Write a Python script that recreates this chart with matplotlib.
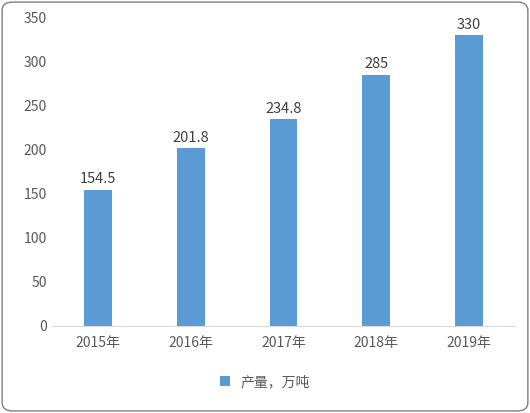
import matplotlib.pyplot as plt
from matplotlib.patches import FancyBboxPatch

plt.rcParams['font.family'] = ['Noto Sans CJK SC', 'DejaVu Sans']

years = ["2015年", "2016年", "2017年", "2018年", "2019年"]
output = [154.5, 201.8, 234.8, 285, 330]
value_labels = ["154.5", "201.8", "234.8", "285", "330"]

fig = plt.figure(figsize=(5.30, 4.13), dpi=100)
fig.patches.append(FancyBboxPatch((0.004, 0.005), 0.992, 0.99, boxstyle="round,pad=0,rounding_size=0.02",
                                  transform=fig.transFigure, fill=False, edgecolor="#7f7f7f", linewidth=1))
ax = fig.add_axes([0.098, 0.211, 0.874, 0.746])

x = range(len(years))
bars = ax.bar(x, output, width=0.3, color="#5B9BD5", label="产量，万吨")
for i, v in enumerate(output):
    ax.text(i, v + 4, value_labels[i], ha="center", va="bottom", fontsize=10.5, color="#404040")

ax.set_ylim(0, 350)
ax.set_yticks(range(0, 351, 50))
ax.set_xlim(-0.5, 4.5)
ax.set_xticks(list(x))
ax.set_xticklabels(years)
ax.tick_params(axis="both", length=0, labelsize=10, colors="#595959")
ax.tick_params(axis="x", pad=7)
for s in ["top", "right", "left"]:
    ax.spines[s].set_visible(False)
ax.spines["bottom"].set_color("#d9d9d9")

fig.legend(handles=[bars], labels=["产量，万吨"], loc="center", bbox_to_anchor=(0.5, 0.075),
           frameon=False, fontsize=10, handlelength=0.7, handleheight=0.7, labelcolor="#595959")

fig.savefig("out.png", dpi=100)
